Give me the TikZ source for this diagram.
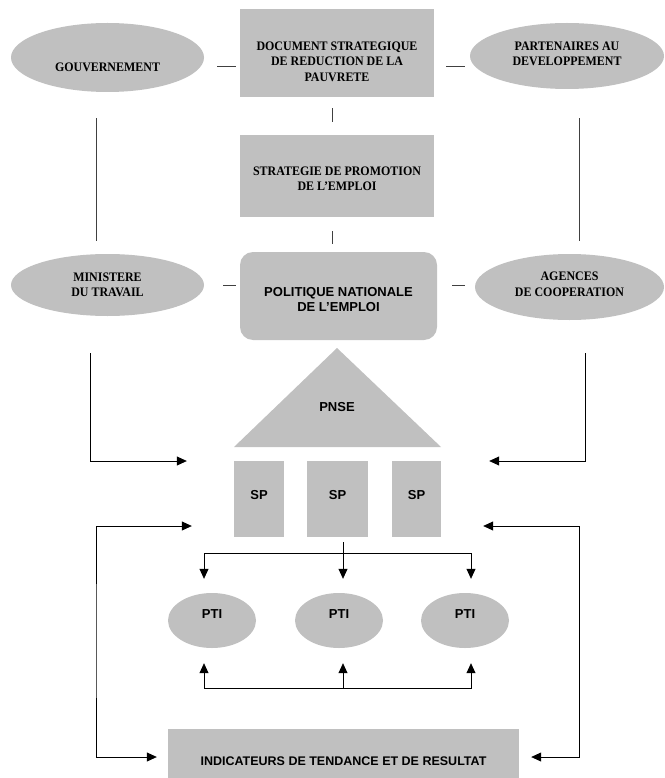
\documentclass[tikz,border=0pt]{standalone}
\usepackage{fontspec}
\setmainfont{Liberation Serif}
\newfontfamily\romanfont[FakeStretch=0.92]{Liberation Serif}
\newfontfamily\helvfont{Liberation Sans}
\usetikzlibrary{shapes.geometric,arrows.meta}
\definecolor{shapegray}{HTML}{C0C0C0}

\tikzset{
	shaded/.style={fill=shapegray, draw=none, inner sep=0pt},
	oval/.style={shaded, ellipse},
	block/.style={shaded, rectangle},
	roman/.style={font=\romanfont\bfseries\fontsize{13}{15.5}\selectfont, align=center},
	helv/.style={font=\helvfont\bfseries\fontsize{13}{15.5}\selectfont, align=center},
	link/.style={draw=black!75, line width=0.8pt},
	feed/.style={draw=black, line width=0.8pt, -{Triangle[length=10pt,width=9pt]}},
	twoway/.style={feed, {Triangle[length=10pt,width=9pt]}-{Triangle[length=10pt,width=9pt]}},
}

\begin{document}
\begin{tikzpicture}[x=1pt, y=-1pt]
			%%%%% START %%%%%
			\useasboundingbox (0,0) rectangle (664,778);
			
			\node[oval, minimum width=193pt, minimum height=69pt, label={[roman,yshift=-9.5pt]center:GOUVERNEMENT}] (gouv) at (107.5,57.5) {};
			\node[block, minimum width=194pt, minimum height=88pt, label={[roman,yshift=-8.5pt]center:DOCUMENT STRATEGIQUE\\DE REDUCTION DE LA\\PAUVRETE}] (dsrp) at (337,53) {};
			\node[oval, minimum width=194pt, minimum height=66pt, label={[roman,yshift=2pt]center:PARTENAIRES AU\\DEVELOPPEMENT}] (part) at (567,56) {};
			
			\node[block, minimum width=194pt, minimum height=82pt, label={[roman,yshift=-3pt]center:STRATEGIE DE PROMOTION\\DE L’EMPLOI}] (spe) at (337,176) {};
			
			\node[oval, minimum width=193pt, minimum height=62pt, label={[roman]center:MINISTERE\\DU TRAVAIL}] (mint) at (107.5,285) {};
			\node[block, rounded corners=13pt, minimum width=197pt, minimum height=88pt, label={[helv,yshift=-3.5pt]center:POLITIQUE NATIONALE\\DE L’EMPLOI}] (pne) at (338.5,296) {};
			\node[oval, minimum width=189pt, minimum height=66pt, label={[roman,yshift=2.5pt]center:AGENCES\\DE COOPERATION}] (agences) at (569.5,287) {};
			
			\draw[link] ([shift={(13,8.5)}]gouv.east) -- ([shift={(-4,13)}]dsrp.west);
			\draw[link] ([shift={(12,13)}]dsrp.east) -- ([shift={(-5,10)}]part.west);
			\draw[link] ([shift={(-5,11)}]dsrp.south) -- ([shift={(-5,-13)}]spe.north);
			\draw[link] ([shift={(-5,14)}]spe.south) -- ([shift={(-6.5,-8)}]pne.north);
			\draw[link] ([shift={(-11.5,26)}]gouv.south) -- ([shift={(-11.5,-13)}]mint.north);
			\draw[link] ([shift={(12,29)}]part.south) -- ([shift={(9.5,-13)}]agences.north);
			\draw[link] ([shift={(19,0)}]mint.east) -- ([shift={(-4,-11)}]pne.west);
			\draw[link] ([shift={(15,-11)}]pne.east) -- ([shift={(-10,-2)}]agences.west);
			
			\fill[shapegray] (337,348) -- (441,447) -- (234,447) -- cycle;
			\node[helv] (pnse) at (337,407) {PNSE};
			
			\node[block, minimum width=50pt, minimum height=76pt, label={[helv,yshift=4pt]center:SP}] (sp1) at (259,499) {};
			\node[block, minimum width=61pt, minimum height=76pt, label={[helv,yshift=4pt]center:SP}] (sp2) at (337.5,499) {};
			\node[block, minimum width=49pt, minimum height=76pt, label={[helv,yshift=4pt]center:SP}] (sp3) at (416.5,499) {};
			
			\draw[feed] ([shift={(-17.5,37)}]mint.south) |- ([shift={(-47,-38)}]sp1.west);
			\draw[feed] ([shift={(15.5,33)}]agences.south) |- ([shift={(48,-38)}]sp3.east);
			
			\node[oval, minimum width=88pt, minimum height=55pt, label={[helv,yshift=6.5pt]center:PTI}] (pti1) at (212,620.5) {};
			\node[oval, minimum width=88pt, minimum height=55pt, label={[helv,yshift=6.5pt]center:PTI}] (pti2) at (339,620.5) {};
			\node[oval, minimum width=88pt, minimum height=55pt, label={[helv,yshift=6.5pt]center:PTI}] (pti3) at (465,620.5) {};
			
			\coordinate (split) at (343,553);
			\coordinate (merge) at (343,688);
			\draw[feed] ([shift={(5.5,5)}]sp2.south) -- ([shift={(4,-14)}]pti2.north);
			\draw[feed] (split) -| ([shift={(-8,-14)}]pti1.north);
			\draw[feed] (split) -| ([shift={(6,-14)}]pti3.north);
			\draw[feed] (merge) -| ([shift={(-8,15)}]pti1.south);
			\draw[feed] (merge) -- ([shift={(4,15)}]pti2.south);
			\draw[feed] (merge) -| ([shift={(6,15)}]pti3.south);
			
			\node[block, minimum width=351pt, minimum height=49pt, label={[helv,font=\helvfont\bfseries\fontsize{12.5}{15}\selectfont,yshift=-7.5pt]center:INDICATEURS DE TENDANCE ET DE RESULTAT}] (ind) at (343.5,753.5) {};
			
			\coordinate (lbend) at (96,640);
			\coordinate (rbend) at (579,640);
			\draw[twoway] ([shift={(-42,27)}]sp1.west) -| (lbend) |- ([shift={(-11,3.5)}]ind.west);
			\draw[twoway] ([shift={(42,27)}]sp3.east) -| (rbend) |- ([shift={(12,3.5)}]ind.east);
			
			%%%%% END %%%%%
\end{tikzpicture}
\end{document}
